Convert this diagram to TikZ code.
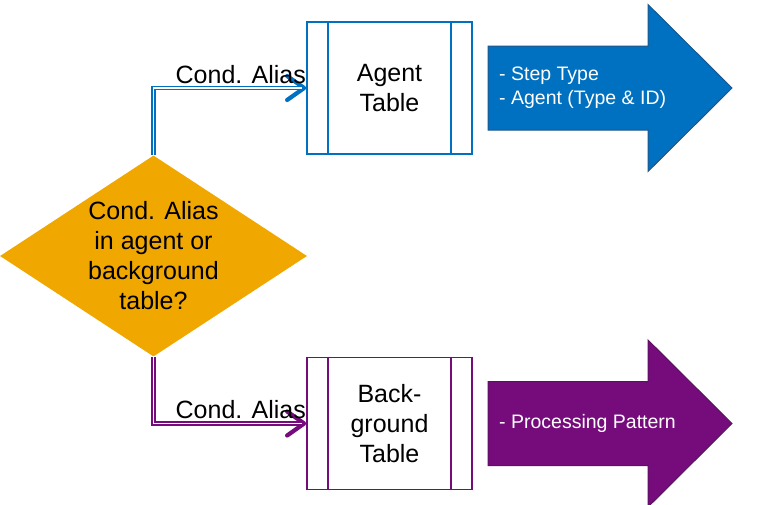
\documentclass[tikz,border=0pt]{standalone}
\usepackage{fontspec}
\setmainfont{Liberation Sans}
\usetikzlibrary{shapes.geometric, arrows.meta, positioning}

\definecolor{agentblue}{RGB}{0,112,192}
\definecolor{agentedge}{RGB}{32,86,140}
\definecolor{bgpurple}{RGB}{118,12,124}
\definecolor{bgedge}{RGB}{92,16,98}
\definecolor{condgold}{RGB}{240,168,0}

\begin{document}
\begin{tikzpicture}[x=1pt, y=-1pt,
    big/.style={font=\fontsize{25}{30}\selectfont},
    cond/.style={diamond, fill=condgold, minimum width=307pt, minimum height=201pt,
                 aspect=1.53, inner sep=0pt, align=center, big},
    tbl/.style={rectangle, draw=#1, line width=1.5pt,
                minimum width=165pt, minimum height=132pt, align=center, big,
                path picture={\draw[#1, line width=1.5pt]
                  ([xshift=21pt]path picture bounding box.north west) --
                  ([xshift=21pt]path picture bounding box.south west)
                  ([xshift=-21pt]path picture bounding box.north east) --
                  ([xshift=-21pt]path picture bounding box.south east);}},
    link/.style={draw=#1, line width=4.8pt, line join=miter,
                 -{Straight Barb[length=17pt, width=24pt, line width=4.2pt 0, round]}},
    gap/.style={draw=white, line width=1.8pt, shorten >=4pt, shorten <=-1pt},
    lbl/.style={big, anchor=south east, inner sep=0pt, xshift=2pt, yshift=2pt},
    info/.style={font=\fontsize{19.5}{24}\selectfont, text=white, align=left,
                 anchor=west, inner sep=0pt},
  ]
  \useasboundingbox (0,0) rectangle (758,504);

  % Row y-centres (picture units, y grows downwards)
  \def\yTop{88}     % agent row
  \def\yBot{423.5}  % background row

  % -- decision --------------------------------------------------------
  \node[cond] (ask) at (153.5,256) {Cond. Alias\\in agent or\\background\\table?};

  % -- tables ----------------------------------------------------------
  \node[tbl=agentblue] (agent) at (389.5,\yTop) {Agent\\Table};
  \node[tbl=bgpurple]  (back)  at (389.5,\yBot) {Back-\\ground\\Table};

  % double connectors: coloured stroke, then a white core on top
  \draw[link=agentblue] (ask.north) |- (agent.west) node[lbl] (upl) {Cond. Alias};
  \draw[gap] (ask.north) |- (agent.west);
  \draw[link=bgpurple]  (ask.south) |- (back.west)  node[lbl] (lol) {Cond. Alias};
  \draw[gap] (ask.south) |- (back.west);

  % -- result arrows ---------------------------------------------------
  \filldraw[fill=agentblue, draw=agentedge, line width=1pt]
    (488,\yTop-42) -- (648,\yTop-42) -- (648,\yTop-83.5) -- (732,\yTop)
    -- (648,\yTop+83.5) -- (648,\yTop+42) -- (488,\yTop+42) -- cycle;
  \node[info] (steps) at (499,\yTop) {- Step Type\\- Agent (Type \& ID)};

  \filldraw[fill=bgpurple, draw=bgedge, line width=1pt]
    (488,\yBot-42) -- (648,\yBot-42) -- (648,\yBot-83.5) -- (732,\yBot)
    -- (648,\yBot+83.5) -- (648,\yBot+42) -- (488,\yBot+42) -- cycle;
  \node[info] (pattern) at (499,\yBot) {- Processing Pattern};

\end{tikzpicture}
\end{document}
